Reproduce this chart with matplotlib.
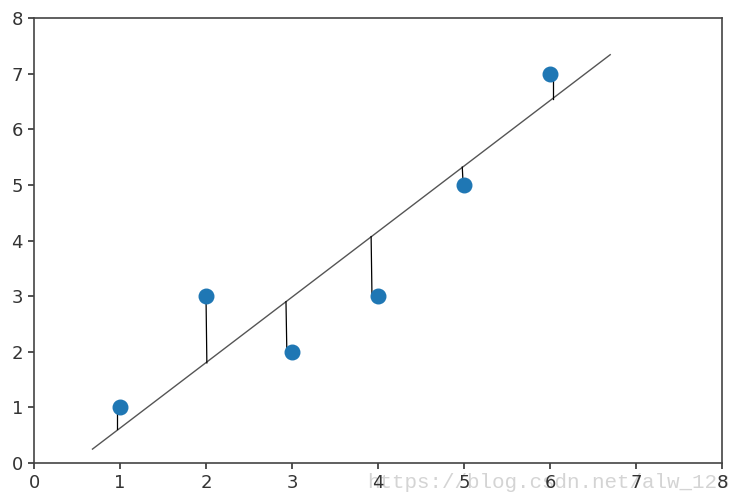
import matplotlib
matplotlib.use("Agg")
import matplotlib.pyplot as plt

# data points
x = [1, 2, 3, 4, 5, 6]
y = [1, 3, 2, 3, 5, 7]

# fitted line end points
line_x = [0.68, 6.70]
line_y = [0.25, 7.34]

# residual segments: from near the point to the line
res_x0 = [0.97, 2.00, 2.94, 3.93, 4.99, 6.03]
res_x1 = [0.97, 2.01, 2.93, 3.92, 4.98, 6.03]
res_y1 = [0.62, 1.80, 2.90, 4.07, 5.32, 6.55]


def main():
    fig = plt.figure(figsize=(7.32, 4.99), dpi=100)
    ax = fig.add_axes([34 / 732, 36 / 499, 688 / 732, 445 / 499])

    ax.plot(line_x, line_y, color="#555555", linewidth=1.0)
    for xa, xb, ya, yb in zip(res_x0, res_x1, y, res_y1):
        ax.plot([xa, xb], [ya, yb], color="black", linewidth=0.9)
    ax.scatter(x, y, s=110, color="#1f77b4", zorder=3)

    ax.set_xlim(0, 8)
    ax.set_ylim(0, 8)
    ax.tick_params(labelsize=13, length=4.5, width=1.2, colors="#333333")
    for s in ax.spines.values():
        s.set_linewidth(1.2)
        s.set_color("#444444")

    # watermark, drawn under the tick labels
    ax.text(0.502, 0.022, "https://blog.csdn.net/alw_123", fontsize=15,
            family="Liberation Mono", color="#d4d4d4", zorder=0.5,
            transform=fig.transFigure, clip_on=False)

    fig.savefig("out.png", dpi=100)


if __name__ == "__main__":
    main()
